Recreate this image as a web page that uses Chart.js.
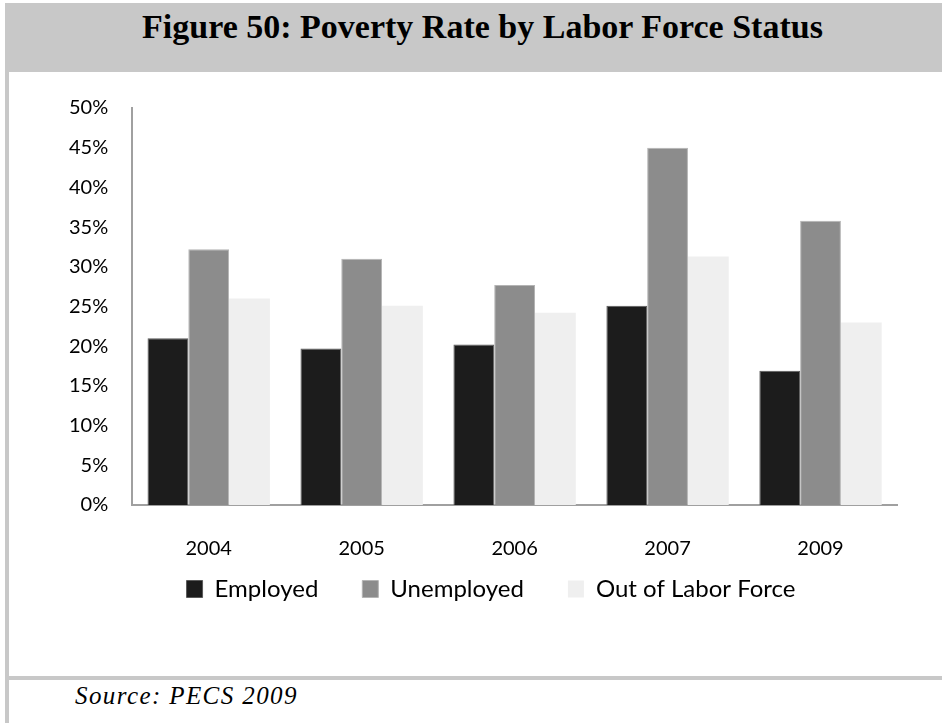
<!DOCTYPE html>
<html>
<head>
<meta charset="utf-8">
<script src="https://cdn.jsdelivr.net/npm/chart.js@4.4.0/dist/chart.umd.min.js"></script>
<style>
  html, body { margin: 0; padding: 0; background: #fff; }
  #page { position: relative; width: 942px; height: 723px; overflow: hidden; }
  #titlebar {
    position: absolute; left: 5px; top: 3px; width: 919px; height: 69px;
    padding-left: 18px;
    background: #c8c8c8;
    font-family: "Liberation Serif", "DejaVu Serif", serif; font-weight: bold;
    font-size: 34px; line-height: 48px; text-align: center; color: #000;
  }
  #leftborder { position: absolute; left: 5px; top: 3px; width: 4px; height: 720px; background: #c8c8c8; }
  #sep { position: absolute; left: 5px; top: 676px; width: 937px; height: 4px; background: #c8c8c8; }
  #source {
    position: absolute; left: 75px; top: 682px;
    font-family: "Liberation Serif", "DejaVu Serif", serif; font-style: italic;
    font-size: 25px; letter-spacing: 1.4px; color: #000;
  }
  #chartbox { position: absolute; left: 9px; top: 72px; width: 933px; height: 604px; }
</style>
</head>
<body>
<div id="page">
  <div id="titlebar">Figure 50: Poverty Rate by Labor Force Status</div>
  <div id="leftborder"></div>
  <div id="chartbox"><canvas id="povertyChart"></canvas></div>
  <div id="sep"></div>
  <div id="source">Source: PECS 2009</div>
</div>
<script>
// Dados (%)
const years = ['2004', '2005', '2006', '2007', '2009'];
const employed = [21.0, 19.7, 20.2, 25.1, 16.9];
const unemployed = [32.2, 31.0, 27.7, 45.0, 35.8];
const outOfLaborForce = [26.0, 25.1, 24.2, 31.3, 23.0];
const seriesNames = ['Employed', 'Unemployed', 'Out of Labor Force'];

const tickFont = { family: 'Lato', size: 20 };

// Aproxima a legenda dos rótulos do eixo x e desloca um pouco para a direita
const legendShift = {
    id: 'legendShift',
    afterLayout(chart) {
        const legend = chart.legend;
        if (legend) {
            legend.left += 20;
            legend.right += 20;
            legend.top -= 60;
            legend.bottom -= 60;
        }
    }
};

const ctx = document.getElementById('povertyChart').getContext('2d');
new Chart(ctx, {
    type: 'bar',
    data: {
        labels: years,
        datasets: [{
            label: seriesNames[0],
            data: employed,
            backgroundColor: '#1c1c1c',
            borderColor: '#5a5a5a',
            borderWidth: 1
        }, {
            label: seriesNames[1],
            data: unemployed,
            backgroundColor: '#8c8c8c',
            borderColor: '#b4b4b4',
            borderWidth: 1
        }, {
            label: seriesNames[2],
            data: outOfLaborForce,
            backgroundColor: '#efefef',
            borderWidth: 0
        }]
    },
    plugins: [legendShift],
    options: {
        responsive: true,
        maintainAspectRatio: false,
        animation: false,
        layout: {
            padding: { top: 19, right: 45, bottom: 5, left: 36 }
        },
        datasets: {
            bar: { categoryPercentage: 0.8, barPercentage: 1.0 }
        },
        scales: {
            x: {
                grid: { display: false, drawTicks: false },
                border: { display: true, color: '#a0a0a0', width: 2 },
                ticks: { color: '#000', font: tickFont, padding: 32 }
            },
            y: {
                min: 0,
                max: 50,
                grid: { display: false, drawTicks: false },
                border: { display: true, color: '#a0a0a0', width: 2 },
                ticks: {
                    stepSize: 5,
                    color: '#000',
                    font: tickFont,
                    padding: 24,
                    callback: v => v + '%'
                }
            }
        },
        plugins: {
            legend: {
                position: 'bottom',
                labels: {
                    color: '#000',
                    font: { family: 'Lato', size: 24 },
                    boxWidth: 16,
                    boxHeight: 17,
                    padding: 44
                }
            },
            tooltip: { enabled: false }
        }
    }
});
</script>
</body>
</html>
